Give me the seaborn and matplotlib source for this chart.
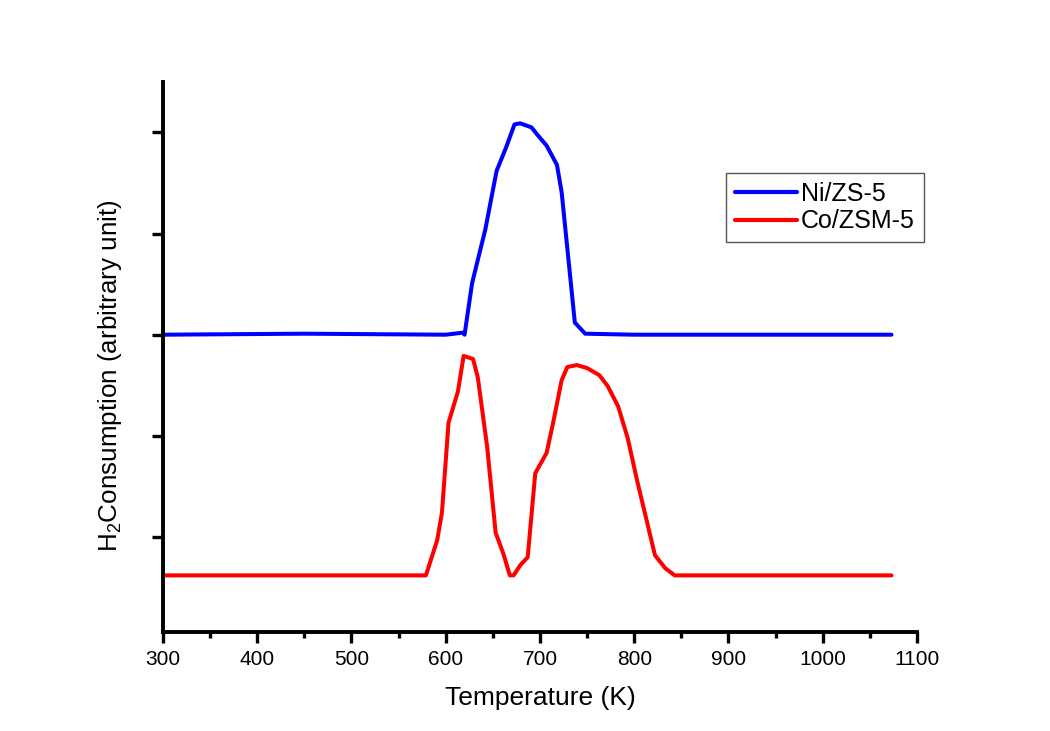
import numpy as np
import pandas as pd
import matplotlib
matplotlib.use("Agg")
import matplotlib.pyplot as plt
from matplotlib.ticker import MultipleLocator
import seaborn as sns

# Ni/ZS-5 TPR profile (offset upward)
ni_temp = [300, 450, 600, 618, 620, 628, 642, 654, 664, 673, 679, 691, 697, 707, 718, 723, 737, 748, 800, 900, 1000, 1073]
ni_h2 = [3.00, 3.01, 3.00, 3.02, 3.00, 3.51, 4.04, 4.62, 4.85, 5.08, 5.09, 5.05, 4.98, 4.87, 4.68, 4.41, 3.12, 3.01, 3.00, 3.00, 3.00, 3.00]

# Co/ZSM-5 TPR profile
co_temp = [300, 579, 591, 596, 603, 613, 619, 629, 634, 644, 653, 661, 668, 672, 679, 687, 695, 707, 714,
           723, 729, 739, 750, 763, 772, 783, 793, 803, 813, 822, 833, 843, 1073]
co_h2 = [0.62, 0.62, 0.97, 1.24, 2.13, 2.44, 2.79, 2.76, 2.58, 1.89, 1.04, 0.84, 0.62, 0.62, 0.72, 0.80, 1.63, 1.83, 2.13,
         2.55, 2.68, 2.70, 2.67, 2.60, 2.49, 2.29, 1.98, 1.56, 1.17, 0.82, 0.69, 0.62, 0.62]

series_names = ["Ni/ZS-5", "Co/ZSM-5"]
series_colors = ["#0000FF", "#FF0000"]
x_ticks = [300, 400, 500, 600, 700, 800, 900, 1000, 1100]

df = pd.concat([
    pd.DataFrame({"T": ni_temp, "H2": ni_h2, "sample": series_names[0]}),
    pd.DataFrame({"T": co_temp, "H2": co_h2, "sample": series_names[1]}),
], ignore_index=True)

sns.set_style("ticks")
plt.rcParams["font.family"] = ["Liberation Sans", "DejaVu Sans"]
plt.rcParams["mathtext.fontset"] = "custom"
plt.rcParams["mathtext.rm"] = "Liberation Sans"
for key in ["text.color", "axes.labelcolor", "xtick.color", "ytick.color", "axes.edgecolor"]:
    plt.rcParams[key] = "black"

fig = plt.figure(figsize=(10.5, 7.31), dpi=100)
ax = fig.add_axes([0.1552, 0.1354, 0.8733 - 0.1552, 0.888 - 0.1354])

sns.lineplot(data=df, x="T", y="H2", hue="sample", palette=dict(zip(series_names, series_colors)),
             sort=False, estimator=None, linewidth=2.9, ax=ax)

ax.set_xlim(300, 1100)
ax.set_ylim(0.06, 5.5)
ax.set_xticks(x_ticks)
ax.xaxis.set_minor_locator(MultipleLocator(50))
ax.set_yticks([1, 2, 3, 4, 5])
ax.set_yticklabels([])

for side in ["top", "right"]:
    ax.spines[side].set_visible(False)
for side in ["left", "bottom"]:
    ax.spines[side].set_linewidth(2.8)
    ax.spines[side].set_color("black")

ax.tick_params(axis="both", which="major", direction="out", length=8, width=2.4, colors="black",
               labelsize=15, pad=5)
ax.tick_params(axis="x", which="minor", direction="out", length=4.5, width=2.4, colors="black")

ax.set_xlabel("Temperature (K)", fontsize=19, labelpad=12)
ax.set_ylabel("H$_2$Consumption (arbitrary unit)", fontsize=18.7)
ax.yaxis.set_label_coords(-0.052, 0.465)

handles, labels = ax.get_legend_handles_labels()
leg = ax.legend(handles, labels, loc="upper left", bbox_to_anchor=(0.747, 0.8345), fontsize=18,
                frameon=True, fancybox=False, edgecolor="#555555", framealpha=1,
                handlelength=2.5, handletextpad=0.15, borderpad=0.35, labelspacing=0.15,
                borderaxespad=0)
leg.get_frame().set_linewidth(1.0)
for line in leg.get_lines():
    line.set_linewidth(3)

fig.savefig("out.png", dpi=100, facecolor="white")
